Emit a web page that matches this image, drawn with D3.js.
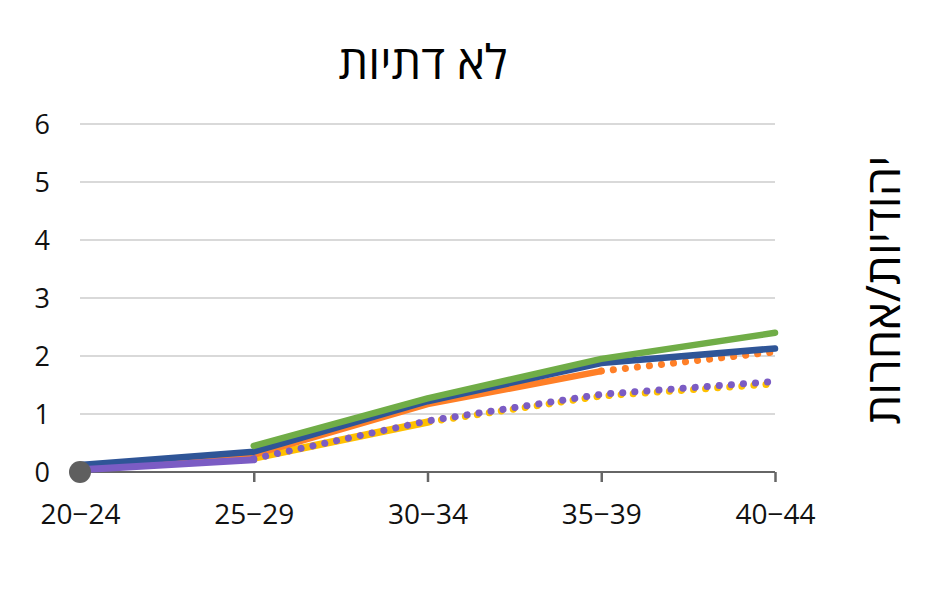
<!DOCTYPE html>
<html><head><meta charset="utf-8">
<script src="https://cdn.jsdelivr.net/npm/d3@7"></script>
<style>body{margin:0;background:#fff}svg{display:block}</style>
</head><body>
<svg id="c" width="940" height="598"></svg>
<script>
const categories = ["20−24","25−29","30−34","35−39","40−44"];
const yTicks = [0,1,2,3,4,5,6];
const title = "לא דתיות";
const sideTitle = "יהודיות/אחרות";
// observed (solid) series
const blueValues   = [0.12, 0.35, 1.22, 1.88, 2.13];
const greenValues  = [null, 0.45, 1.27, 1.95, 2.40];
const orangeValues = [0.07, 0.30, 1.17, 1.74, null];
const yellowValues = [0.08, 0.24, 0.86, null, null];
const purpleValues = [0.04, 0.21, null, null, null];
// projected (dotted) series
const orangeProjected = [null, null, null, 1.74, 2.07];
const yellowProjected = [null, null, 0.86, 1.31, 1.52];
const purpleProjected = [null, 0.23, 0.88, 1.34, 1.56];
const grayPoint = [0, null, null, null, null];

const svg = d3.select("#c");
const x = d3.scalePoint().domain(categories).range([80, 775]);
const y = d3.scaleLinear().domain([0, 6]).range([472, 124]);
const font = "'Open Sans', 'Noto Sans', sans-serif";

// gridlines
svg.append("g").selectAll("line").data(yTicks.filter(t => t > 0)).join("line")
  .attr("x1", 80).attr("x2", 775)
  .attr("y1", d => y(d)).attr("y2", d => y(d))
  .attr("stroke", "#d9d9d9").attr("stroke-width", 2);

// y labels
svg.append("g").selectAll("text").data(yTicks).join("text")
  .attr("x", 50).attr("y", d => y(d)).attr("dy", "0.36em")
  .attr("text-anchor", "end").attr("font-family", font).attr("font-size", 27)
  .attr("fill", "#111").text(d => d);

// x axis
const xAxis = svg.append("g").attr("transform", `translate(0,${y(0)})`)
  .call(d3.axisBottom(x).tickSizeOuter(0).tickSizeInner(10).tickPadding(22));
xAxis.select(".domain").attr("stroke", "#666").attr("stroke-width", 2).attr("d", `M80,0H775`);
xAxis.selectAll(".tick line").attr("stroke", "#666").attr("stroke-width", 2.5);
xAxis.selectAll(".tick text").attr("font-family", font).attr("font-size", 28).attr("fill", "#111");

const line = vals => d3.line()
  .defined(d => d[1] != null)
  .x(d => x(d[0])).y(d => y(d[1]))(categories.map((c, i) => [c, vals[i]]));

function solid(vals, color, w) {
  svg.append("path").attr("d", line(vals)).attr("fill", "none")
    .attr("stroke", color).attr("stroke-width", w || 6.5)
    .attr("stroke-linecap", "round").attr("stroke-linejoin", "round");
}
function dotted(vals, color, w, off) {
  svg.append("path").attr("d", line(vals)).attr("fill", "none")
    .attr("stroke", color).attr("stroke-width", w || 7)
    .attr("stroke-linecap", "round").attr("stroke-dasharray", "0.1 12")
    .attr("stroke-dashoffset", off || 0);
}

solid(yellowValues, "#ffc000", 7.5);
dotted(yellowProjected, "#ffc000", 7, -2);
solid(orangeValues, "#ff7f27");
dotted(orangeProjected, "#ff7f27");
solid(blueValues, "#2f5597");
solid(greenValues, "#70ad47");
solid(purpleValues, "#7b5cc4", 7);
dotted(purpleProjected, "#7b5cc4");

svg.append("g").selectAll("circle")
  .data(categories.map((c, i) => [c, grayPoint[i]]).filter(d => d[1] != null))
  .join("circle").attr("cx", d => x(d[0])).attr("cy", d => y(d[1])).attr("r", 11)
  .attr("fill", "#5f5f5f");

svg.append("text").attr("x", 423).attr("y", 79).attr("text-anchor", "middle")
  .attr("font-family", font).attr("font-size", 47).attr("fill", "#000").text(title);

svg.append("text").attr("transform", "translate(900,290) rotate(-90)")
  .attr("text-anchor", "middle").attr("font-family", font).attr("font-size", 47)
  .attr("fill", "#000").text(sideTitle);
</script>
</body></html>
